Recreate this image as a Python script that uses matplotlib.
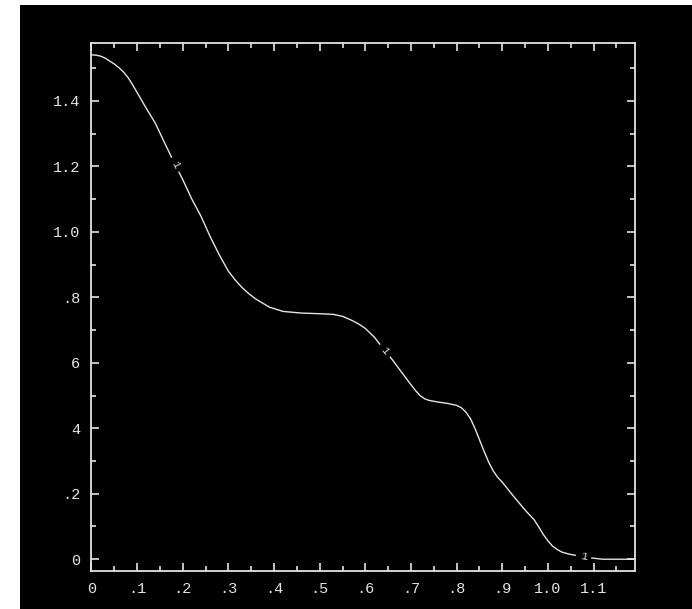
import numpy as np
import matplotlib
matplotlib.use("Agg")
import matplotlib.pyplot as plt
from matplotlib.patches import Rectangle

# curve
x_pts = [0.0, 0.01, 0.02, 0.03, 0.04, 0.05, 0.06, 0.07, 0.08, 0.09, 0.10, 0.12, 0.14,
         0.16, 0.18, 0.20, 0.22, 0.24, 0.26, 0.28, 0.30, 0.315, 0.33, 0.345, 0.36, 0.39,
         0.42, 0.46, 0.50, 0.53, 0.55, 0.57, 0.585, 0.60, 0.62, 0.64, 0.66, 0.68, 0.70,
         0.71, 0.72, 0.73, 0.74, 0.76, 0.78, 0.80, 0.81, 0.82, 0.83, 0.84, 0.85, 0.86,
         0.87, 0.88, 0.89, 0.90, 0.91, 0.92, 0.95, 0.97, 0.98, 0.99, 1.00, 1.01, 1.02,
         1.03, 1.045, 1.06, 1.08, 1.10, 1.12, 1.15, 1.19]
y_pts = [1.541, 1.540, 1.537, 1.531, 1.522, 1.513, 1.502, 1.489, 1.472, 1.450, 1.426,
         1.378, 1.332, 1.273, 1.215, 1.160, 1.100, 1.048, 0.986, 0.93, 0.88, 0.853,
         0.830, 0.811, 0.795, 0.770, 0.757, 0.752, 0.750, 0.748, 0.742, 0.730, 0.719,
         0.705, 0.678, 0.642, 0.608, 0.570, 0.533, 0.515, 0.500, 0.490, 0.485, 0.480,
         0.476, 0.470, 0.463, 0.450, 0.430, 0.400, 0.365, 0.330, 0.297, 0.270, 0.250,
         0.235, 0.218, 0.200, 0.150, 0.120, 0.098, 0.075, 0.056, 0.040, 0.030, 0.022,
         0.016, 0.012, 0.007, 0.003, 0.0, 0.0, 0.0]

# in-line curve labels
lab_x = [0.183, 0.643, 1.078]
lab_y = [1.205, 0.637, 0.008]
lab_txt = ["1", "1", "1"]

xticks = [0.0, 0.1, 0.2, 0.3, 0.4, 0.5, 0.6, 0.7, 0.8, 0.9, 1.0, 1.1]
xticklabels = ["0", ".1", ".2", ".3", ".4", ".5", ".6", ".7", ".8", ".9", "1.0", "1.1"]
yticks = [0.0, 0.2, 0.4, 0.6, 0.8, 1.0, 1.2, 1.4]
yticklabels = ["0", ".2", "4", "6", ".8", "1.0", "1.2", "1.4"]

FG = "#e4e4e4"
FONT = ["Liberation Mono", "DejaVu Sans Mono"]

fig = plt.figure(figsize=(6.92, 6.09), dpi=100, facecolor="white")
# black plotting panel (white strip left and top)
bg = Rectangle((20 / 692, 0), 1, (609 - 5) / 609, transform=fig.transFigure,
               facecolor="black", edgecolor="none", zorder=-10)
fig.add_artist(bg)

ax = fig.add_axes([91.4 / 692, 38 / 609, 544 / 692, 528.3 / 609])
ax.set_zorder(5)
ax.set_facecolor("black")
ax.set_xlim(0, 1.1915)
ax.set_ylim(-0.036, 1.578)

ax.plot(x_pts, y_pts, color=FG, lw=1.0, zorder=2)

xs = np.array(x_pts); ys = np.array(y_pts)
for lx, ly, t in zip(lab_x, lab_y, lab_txt):
    i = int(np.searchsorted(xs, lx))
    p0 = ax.transData.transform((xs[i - 1], ys[i - 1]))
    p1 = ax.transData.transform((xs[i], ys[i]))
    ang = np.degrees(np.arctan2(p1[1] - p0[1], p1[0] - p0[0]))
    ax.text(lx, ly, t, color=FG, fontsize=8, family=FONT, ha="center", va="center",
            rotation=ang, rotation_mode="anchor", zorder=3,
            bbox=dict(facecolor="black", edgecolor="none", pad=3.2))

for s in ax.spines.values():
    s.set_color(FG); s.set_linewidth(1.3)

ax.set_xticks(xticks); ax.set_xticklabels(xticklabels)
ax.set_yticks(yticks); ax.set_yticklabels(yticklabels)
ax.set_xticks(np.array(xticks) + 0.05, minor=True)
ax.set_yticks(np.array(yticks) + 0.1, minor=True)
ax.tick_params(which="both", direction="in", top=True, right=True, color=FG, width=1.2,
               labelcolor=FG, labelsize=11)
ax.tick_params(which="major", length=5.6)
ax.tick_params(which="minor", length=3.8)
ax.tick_params(axis="x", pad=8)
ax.tick_params(axis="y", pad=8)
for lab in ax.get_xticklabels() + ax.get_yticklabels():
    lab.set_family(FONT)

fig.savefig("out.png", dpi=100, facecolor="white")
